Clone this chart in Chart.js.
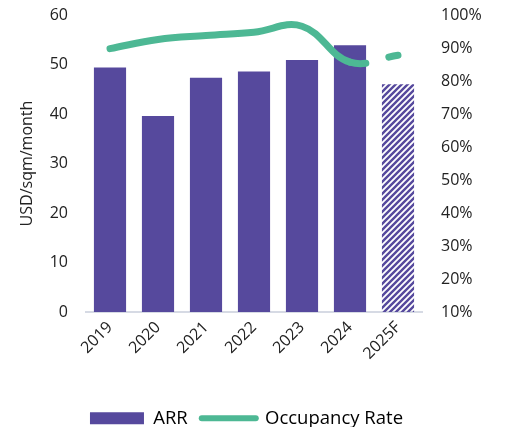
<!DOCTYPE html>
<html lang="en">
<head>
  <meta charset="UTF-8">
  <title>ARR and Occupancy Rate</title>
  <script src="https://cdn.jsdelivr.net/npm/chart.js"></script>
  <style>
    html, body { margin: 0; padding: 0; background: #fff; }
    #wrap { width: 505px; height: 427px; }
  </style>
</head>
<body>
  <div id="wrap"><canvas id="myChart" width="505" height="427"></canvas></div>

  <script>
    const years = ['2019', '2020', '2021', '2022', '2023', '2024', '2025F'];
    const arrValues = [49.4, 39.6, 47.3, 48.6, 50.9, 53.9, 46.0];
    const occupancyValues = [89.8, 92.6, 93.8, 94.8, 96.6, 85.7, 87.8];
    const leftTicks = [0, 10, 20, 30, 40, 50, 60];
    const rightTicks = [10, 20, 30, 40, 50, 60, 70, 80, 90, 100];

    const purple = '#56499D';
    const green = '#4DB894';

    // diagonal hatch for the forecast bar
    function makeHatch() {
      const c = document.createElement('canvas');
      c.width = 6;
      c.height = 6;
      const g = c.getContext('2d');
      g.strokeStyle = purple;
      g.lineWidth = 2.4;
      g.beginPath();
      g.moveTo(-1, 7); g.lineTo(7, -1);
      g.moveTo(-4, 4); g.lineTo(4, -4);
      g.moveTo(2, 10); g.lineTo(10, 2);
      g.stroke();
      return g.createPattern(c, 'repeat');
    }
    const hatch = makeHatch();

    Chart.defaults.font.family = '"Open Sans", "Noto Sans", sans-serif';
    Chart.defaults.font.size = 16;
    Chart.defaults.color = '#222';

    // keep the legend short and nudge it left, like the original
    const legendPlace = {
      id: 'legendPlace',
      beforeInit(chart) {
        const lg = chart.legend;
        const fit = lg.fit;
        lg.fit = function () {
          fit.call(lg);
          this.height = 32;
        };
        const draw = lg.draw;
        lg.draw = function () {
          const c = chart.ctx;
          c.save();
          c.translate(-13, 0);
          draw.call(lg);
          c.restore();
        };
      },
    };

    // fixed axis sizes, no extra label padding at top/bottom
    function fixY(width) {
      return (s) => {
        s.width = width;
        s.paddingTop = 0;
        s.paddingBottom = 0;
      };
    }

    const ctx = document.getElementById('myChart').getContext('2d');

    const myChart = new Chart(ctx, {
      data: {
        labels: years,
        datasets: [
          {
            type: 'line',
            label: 'Occupancy Rate',
            data: occupancyValues,
            yAxisID: 'y1',
            borderColor: green,
            backgroundColor: green,
            borderWidth: 7,
            borderCapStyle: 'round',
            borderJoinStyle: 'round',
            pointRadius: 0,
            pointHoverRadius: 0,
            tension: 0.4,
            segment: {
              borderDash: (c) => c.p1DataIndex === years.length - 1 ? [16, 24] : undefined,
            },
            order: 0,
          },
          {
            type: 'bar',
            label: 'ARR',
            data: arrValues,
            yAxisID: 'y',
            backgroundColor: arrValues.map((v, i) => i === years.length - 1 ? hatch : purple),
            borderWidth: 0,
            categoryPercentage: 1,
            barPercentage: 0.67,
            order: 1,
          },
        ],
      },
      options: {
        responsive: false,
        animation: false,
        layout: { padding: { top: 15, left: 14, right: 0, bottom: 0 } },
        plugins: {
          tooltip: { enabled: false },
          legend: {
            position: 'bottom',
            labels: {
              usePointStyle: true,
              pointStyleWidth: 54,
              boxHeight: 12,
              padding: 14,
              color: '#222',
              font: { size: 18.5 },
              generateLabels: () => [
                {
                  text: 'ARR',
                  pointStyle: 'rect',
                  fillStyle: purple,
                  strokeStyle: purple,
                  lineWidth: 0,
                  datasetIndex: 1,
                },
                {
                  text: 'Occupancy Rate',
                  pointStyle: 'line',
                  fillStyle: green,
                  strokeStyle: green,
                  lineWidth: 6,
                  lineCap: 'round',
                  datasetIndex: 0,
                },
              ],
            },
          },
        },
        scales: {
          x: {
            grid: { display: false, drawTicks: false },
            border: { display: true, color: '#D6DAE4', width: 2 },
            ticks: { maxRotation: 45, minRotation: 45, padding: 6, color: '#222' },
            afterFit: (s) => { s.height = 83; },
          },
          y: {
            position: 'left',
            min: 0,
            max: 60,
            afterBuildTicks: (s) => { s.ticks = leftTicks.map((v) => ({ value: v })); },
            grid: { display: false },
            border: { display: false },
            ticks: { padding: 10, color: '#222' },
            title: { display: true, text: 'USD/sqm/month', color: '#222', font: { size: 16 } },
            afterFit: fixY(72),
          },
          y1: {
            position: 'right',
            min: 10,
            max: 100,
            afterBuildTicks: (s) => { s.ticks = rightTicks.map((v) => ({ value: v })); },
            grid: { display: false },
            border: { display: false },
            ticks: { padding: 11, color: '#222', callback: (v) => v + '%' },
            afterFit: fixY(83),
          },
        },
      },
      plugins: [legendPlace],
    });
  </script>
</body>
</html>
